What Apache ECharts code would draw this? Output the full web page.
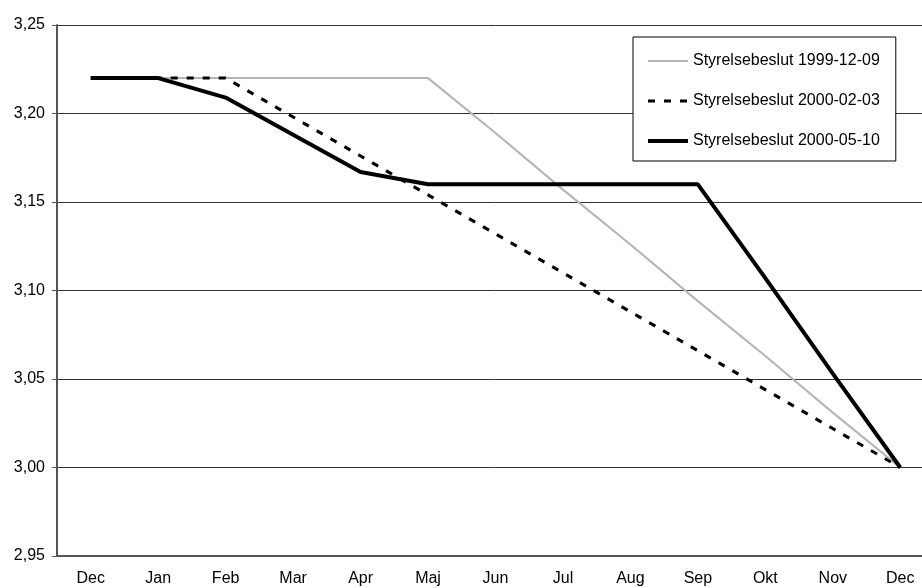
<!DOCTYPE html>
<html>
<head>
<meta charset="utf-8">
<script src="https://cdn.jsdelivr.net/npm/echarts@6/dist/echarts.min.js"></script>
<style>
  html, body { margin: 0; padding: 0; background: #fff; overflow: hidden; }
  /* plot runs past the right edge in the original, so the canvas is a bit wider than the window */
  #chart { width: 936px; height: 588px; }
</style>
</head>
<body>
<div id="chart"></div>
<script>
// months on the x axis
const months = ["Dec", "Jan", "Feb", "Mar", "Apr", "Maj", "Jun", "Jul", "Aug", "Sep", "Okt", "Nov", "Dec"];

// series names
const seriesNames = ["Styrelsebeslut 1999-12-09", "Styrelsebeslut 2000-02-03", "Styrelsebeslut 2000-05-10"];

// values
const beslut19991209 = [3.22, 3.22, 3.22, 3.22, 3.22, 3.22, 3.189, 3.157, 3.126, 3.094, 3.063, 3.031, 3.00];
const beslut20000203 = [3.22, 3.22, 3.22, 3.198, 3.176, 3.154, 3.132, 3.110, 3.088, 3.066, 3.044, 3.022, 3.00];
const beslut20000510 = [3.22, 3.22, 3.209, 3.188, 3.167, 3.16, 3.16, 3.16, 3.16, 3.16, 3.107, 3.053, 3.00];

const font = "Arial, 'Liberation Sans', sans-serif";

const chart = echarts.init(document.getElementById("chart"));

const option = {
    backgroundColor: "#fff",
    animation: false,
    grid: {
        left: 57,
        top: 25,
        width: 877,
        height: 531,
    },
    legend: {
        orient: "vertical",
        left: 633,
        top: 37,
        backgroundColor: "#fff",
        borderColor: "#000",
        borderWidth: 1,
        padding: [16, 16, 12, 13],
        itemWidth: 40,
        itemHeight: 16,
        itemGap: 24,
        // hide the marker dot, keep only the line sample
        itemStyle: { color: "transparent", borderColor: "transparent", borderWidth: 0 },
        lineStyle: { width: "inherit" },
        textStyle: { fontFamily: font, fontSize: 16, color: "#000" },
        data: seriesNames,
    },
    xAxis: {
        type: "category",
        data: months,
        boundaryGap: true,
        axisLine: { lineStyle: { color: "#555", width: 2 } },
        axisTick: { length: 5, lineStyle: { color: "#555", width: 1 } },
        axisLabel: { margin: 15, fontFamily: font, fontSize: 16, color: "#000" },
    },
    yAxis: {
        type: "value",
        min: 2.95,
        max: 3.25,
        interval: 0.05,
        axisLine: { show: true, lineStyle: { color: "#555", width: 2 } },
        axisTick: { show: true, length: 5, lineStyle: { color: "#555", width: 1 } },
        axisLabel: {
            margin: 12,
            fontFamily: font,
            fontSize: 16,
            color: "#000",
            formatter: (v) => v.toFixed(2).replace(".", ","),
        },
        splitLine: { lineStyle: { color: "#333", width: 1 } },
    },
    series: [
        {
            name: seriesNames[0],
            type: "line",
            data: beslut19991209,
            symbol: "none",
            lineStyle: { color: "#b4b4b4", width: 2 },
            itemStyle: { color: "#b4b4b4" },
        },
        {
            name: seriesNames[1],
            type: "line",
            data: beslut20000203,
            symbol: "none",
            lineStyle: { color: "#000", width: 3, type: [7, 9] },
            itemStyle: { color: "#000" },
        },
        {
            name: seriesNames[2],
            type: "line",
            data: beslut20000510,
            symbol: "none",
            lineStyle: { color: "#000", width: 4 },
            itemStyle: { color: "#000" },
        },
    ],
};

chart.setOption(option);
</script>
</body>
</html>
